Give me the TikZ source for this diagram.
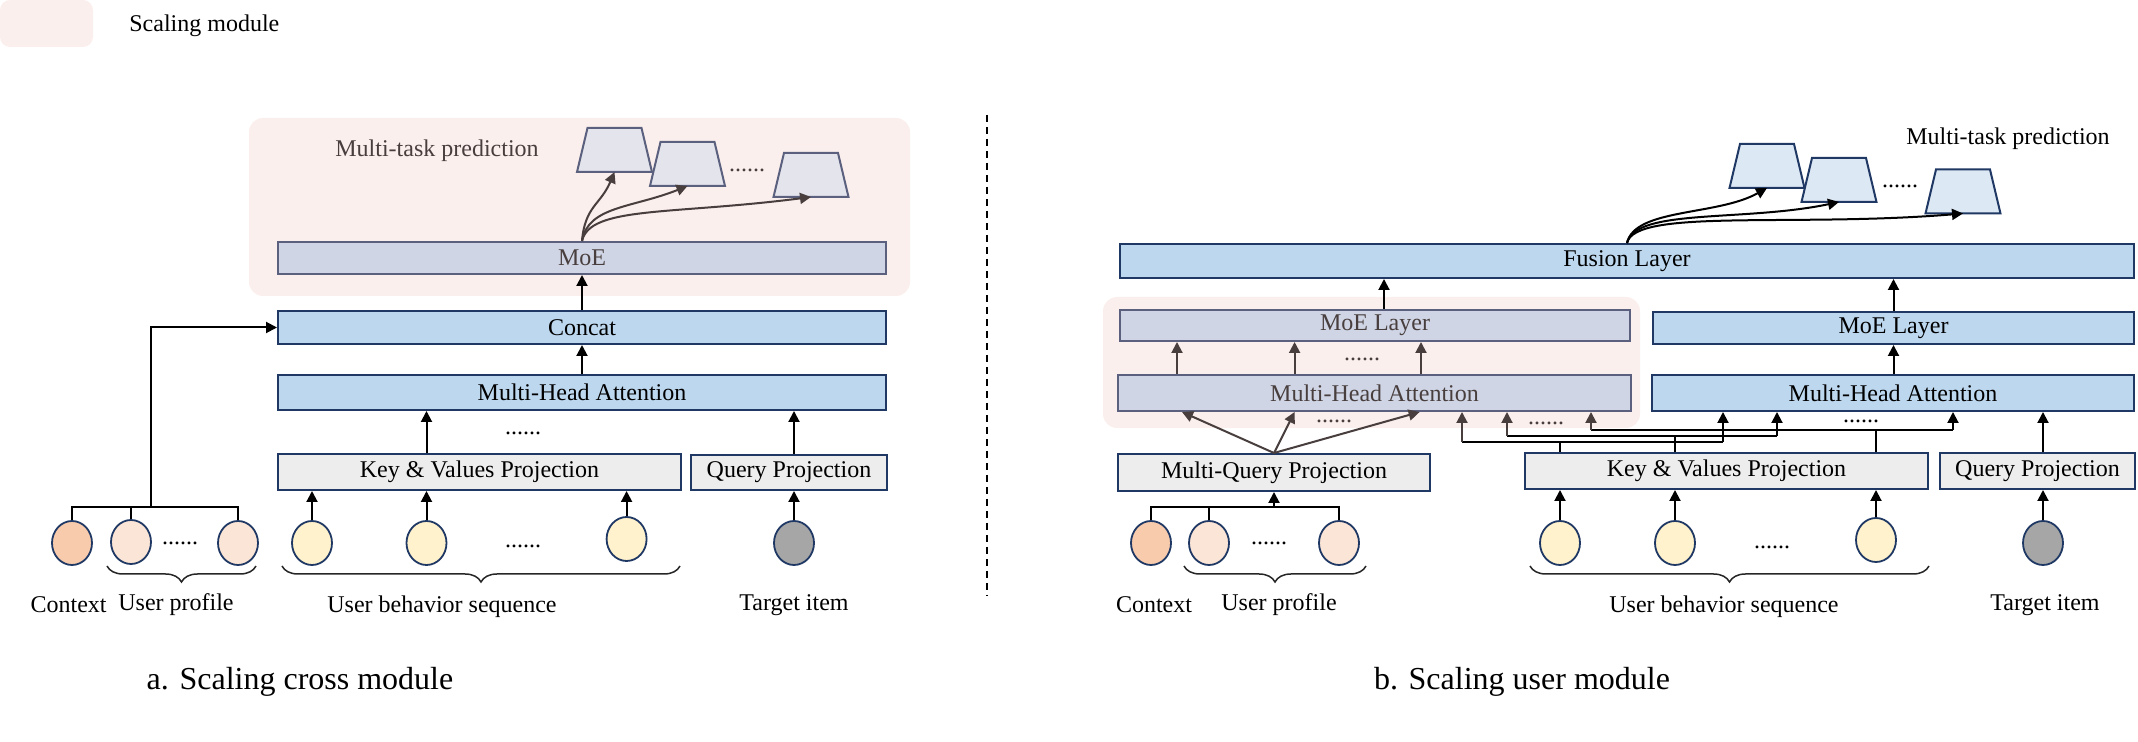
\documentclass[tikz,border=0pt]{standalone}
\usepackage{fontspec}
\setmainfont{Liberation Serif}
\usetikzlibrary{shapes.geometric,arrows.meta,decorations.pathreplacing,calc}
\definecolor{pinkbg}{RGB}{251,239,237}
\definecolor{navy}{RGB}{31,56,100}
\definecolor{bluefill}{RGB}{189,215,238}
\definecolor{grayfill}{RGB}{237,237,237}
\definecolor{lavfill}{RGB}{207,213,228}
\definecolor{lavline}{RGB}{90,96,125}
\definecolor{modtext}{RGB}{72,62,62}
\definecolor{trapA}{RGB}{228,228,236}
\definecolor{trapB}{RGB}{221,232,245}
\definecolor{ctxfill}{RGB}{248,203,173}
\definecolor{upfill}{RGB}{251,229,214}
\definecolor{bhfill}{RGB}{255,242,204}
\definecolor{tgfill}{RGB}{166,166,166}
\newcommand\mytrap[4]{%
  \coordinate (#1) at (#2,#3);
  \draw[#4] ($(#1)+(-27,-22)$) -- ($(#1)+(27,-22)$) -- ($(#1)+(37.5,22)$) -- ($(#1)+(-37.5,22)$) -- cycle;
  \coordinate (#1s) at ($(#1)+(0,22)$);}
\begin{document}
\begin{tikzpicture}[x=0.5pt,y=-0.5pt,font=\fontsize{12}{14}\selectfont,
  bluebox/.style={draw=navy,line width=1pt,fill=bluefill,inner sep=0pt},
  graybox/.style={draw=navy,line width=1pt,fill=grayfill,inner sep=0pt},
  lavbox/.style={draw=lavline,line width=1pt,fill=lavfill,inner sep=0pt,text=modtext},
  trapa/.style={draw=lavline,fill=trapA,line width=1pt},
  trapb/.style={draw=navy,fill=trapB,line width=1pt},
  emb/.style={ellipse,minimum width=20pt,minimum height=22pt,inner sep=0pt,draw=navy,line width=0.9pt},
  ctx/.style={emb,fill=ctxfill},
  upr/.style={emb,fill=upfill},
  bhv/.style={emb,fill=bhfill},
  tgt/.style={emb,fill=tgfill},
  arr/.style={-{Triangle[length=5.5pt,width=5.5pt]},line width=1pt,draw=black},
  modarr/.style={arr,draw=modtext},
  wire/.style={line width=1pt,draw=black},
  brc/.style={decorate,decoration={brace,mirror,amplitude=8pt},line width=0.75pt,draw=black!85},
  lbl/.style={inner sep=0pt},
  dotsl/.style={inner sep=0pt},
  captxt/.style={inner sep=0pt,font=\fontsize{16}{19}\selectfont}
]
\useasboundingbox (0,0) rectangle (2138,742);
% legend
\fill[pinkbg,rounded corners=5pt] (0,0) rectangle (93,47);
\node[lbl,anchor=west] (legtxt) at (129,26) {Scaling module};

% ================= panel a =================
\fill[pinkbg,rounded corners=7pt] (249,118) rectangle (910,296);
\node[lavbox,minimum width=304pt,minimum height=16pt] (moea) at (582,258) {MoE};
\node[bluebox,minimum width=304pt,minimum height=16.5pt] (cata) at (582,327.5) {Concat};
\node[bluebox,minimum width=304pt,minimum height=17.5pt] (mhaa) at (582,392.5) {Multi-Head Attention};
\node[graybox,minimum width=201.5pt,minimum height=18pt] (kva) at (479.5,472) {Key \& Values Projection};
\node[graybox,minimum width=98pt,minimum height=17.5pt] (qpa) at (789,472.5) {Query Projection};
\node[lbl,text=modtext] (mtpa) at (437,151) {Multi-task prediction};
\mytrap{ta1}{614.5}{150}{trapa}
\mytrap{ta2}{687.5}{164}{trapa}
\mytrap{ta3}{811}{175}{trapa}
\node[dotsl,text=modtext] (tdotsa) at (747,170) {......};

\draw[modarr] (moea.north) .. controls ($(moea.north)+(3,-35)$) and ($(ta1s)+(-14,33)$) .. (ta1s);
\draw[modarr] (moea.north) .. controls ($(moea.north)+(6,-35)$) and ($(ta2s)+(-55,22)$) .. (ta2s);
\draw[modarr] (moea.north) .. controls ($(moea.north)+(8,-35)$) and ($(ta3s)+(-140,18)$) .. (ta3s);
\draw[arr] (cata.north) -- (moea.south);
\draw[arr] (mhaa.north) -- (cata.south);

\node[ctx] (ctxa) at (72,543) {};
\node[upr] (upa1) at (131,542) {};
\node[dotsl] (updotsa) at (180,543) {......};
\node[upr] (upa2) at (238,543) {};
\node[bhv] (bha1) at (312,543) {};
\node[bhv] (bha2) at (426.5,543) {};
\node[dotsl] (bhdotsa) at (523,546) {......};
\node[bhv] (bha3) at (626.6,539) {};
\node[tgt] (tga) at (794,543) {};
\node[dotsl] (kvdotsa) at (523,433) {......};

\coordinate (xkva) at (426.5,0);
\coordinate (xqa) at (794,0);
\draw[arr] (kva.north -| xkva) -- (mhaa.south -| xkva);
\draw[arr] (qpa.north -| xqa) -- (mhaa.south -| xqa);
\draw[arr] (bha1.north) -- (kva.south -| bha1);
\draw[arr] (bha2.north) -- (kva.south -| bha2);
\draw[arr] (bha3.north) -- (kva.south -| bha3);
\draw[arr] (tga.north) -- (qpa.south -| tga);

\coordinate (ja) at (151,507);
\draw[wire] (ctxa.north) -- (ctxa |- ja) -- (upa2 |- ja) -- (upa2.north);
\draw[wire] (upa1.north) -- (upa1 |- ja);
\draw[arr] (ja) -- (ja |- cata.west) -- (cata.west);

\draw[brc] (107,566) -- (256,566);
\draw[brc] (282,566) -- (680,566);
\node[lbl] (lctxa) at (68.6,605) {Context};
\node[lbl] (lupa) at (176,605) {User profile};
\node[lbl] (lbha) at (442,607) {User behavior sequence};
\node[lbl] (ltga) at (794,605) {Target item};
\node[captxt] (capa) at (300,682) {a. Scaling cross module};

% divider
\draw[line width=0.85pt,dash pattern=on 3.5pt off 2.5pt] (987,115) -- (987,596);

% ================= panel b =================
\fill[pinkbg,rounded corners=7pt] (1103,297) rectangle (1640,428);
\node[bluebox,minimum width=507pt,minimum height=17pt] (fus) at (1627,261) {Fusion Layer};
\node[lavbox,minimum width=255pt,minimum height=15.5pt] (moeL) at (1375,325.5) {MoE Layer};
\node[bluebox,minimum width=240.5pt,minimum height=16pt] (moeR) at (1893.5,328) {MoE Layer};
\node[lavbox,minimum width=256.5pt,minimum height=18pt] (mhaL) at (1374.5,393) {Multi-Head Attention};
\node[bluebox,minimum width=241pt,minimum height=18pt] (mhaR) at (1893,393) {Multi-Head Attention};
\node[graybox,minimum width=156pt,minimum height=18.5pt] (mqp) at (1274,472.5) {Multi-Query Projection};
\node[graybox,minimum width=201.5pt,minimum height=18pt] (kvb) at (1726.5,471) {Key \& Values Projection};
\node[graybox,minimum width=97.5pt,minimum height=18pt] (qpb) at (2037.5,471) {Query Projection};

\node[lbl] (mtpb) at (2008,139) {Multi-task prediction};
\mytrap{tb1}{1767}{166}{trapb}
\mytrap{tb2}{1839}{180}{trapb}
\mytrap{tb3}{1963}{191.5}{trapb}
\node[dotsl] (tdotsb) at (1900,186) {......};
\draw[arr] (fus.north) .. controls ($(fus.north)+(8,-35)$) and ($(tb1s)+(-50,28)$) .. (tb1s);
\draw[arr] (fus.north) .. controls ($(fus.north)+(8,-35)$) and ($(tb2s)+(-95,20)$) .. (tb2s);
\draw[arr] (fus.north) .. controls ($(fus.north)+(8,-35)$) and ($(tb3s)+(-170,14)$) .. (tb3s);

\coordinate (xfl) at (1384,0);
\draw[arr] (moeL.north -| xfl) -- (fus.south -| xfl);
\draw[arr] (moeR.north) -- (fus.south -| moeR.north);
\draw[arr] (mhaR.north -| moeR.north) -- (moeR.south);

% MHA L -> MoE L
\coordinate (xm1) at (1177,0);
\coordinate (xm2) at (1294.6,0);
\coordinate (xm3) at (1421,0);
\draw[modarr] (mhaL.north -| xm1) -- (moeL.south -| xm1);
\draw[modarr] (mhaL.north -| xm2) -- (moeL.south -| xm2);
\draw[modarr] (mhaL.north -| xm3) -- (moeL.south -| xm3);
\node[dotsl,text=modtext] (mdotsb) at (1362,359) {......};

% MQP -> MHA L
\coordinate (xq1) at (1182,0);
\coordinate (xq2) at (1294.6,0);
\coordinate (xq3) at (1419.6,0);
\draw[modarr] (mqp.north) -- (mhaL.south -| xq1);
\draw[modarr] (mqp.north) -- (mhaL.south -| xq2);
\draw[modarr] (mqp.north) -- (mhaL.south -| xq3);
\node[dotsl,text=modtext] (qdotsb) at (1334,421) {......};

% circles b
\node[ctx] (ctxb) at (1151,543) {};
\node[upr] (upb1) at (1209,543) {};
\node[dotsl] (updotsb) at (1269,543) {......};
\node[upr] (upb2) at (1339,543) {};
\node[bhv] (bhb1) at (1560,543) {};
\node[bhv] (bhb2) at (1675,543) {};
\node[dotsl] (bhdotsb) at (1772,547) {......};
\node[bhv] (bhb3) at (1876,540) {};
\node[tgt] (tgb) at (2043,543) {};

\draw[arr] (bhb1.north) -- (kvb.south -| bhb1);
\draw[arr] (bhb2.north) -- (kvb.south -| bhb2);
\draw[arr] (bhb3.north) -- (kvb.south -| bhb3);
\draw[arr] (tgb.north) -- (qpb.south -| tgb);
\draw[arr] (qpb.north -| tgb) -- (mhaR.south -| tgb);

\coordinate (jb) at (1274,507);
\draw[wire] (ctxb.north) -- (ctxb |- jb) -- (upb2 |- jb) -- (upb2.north);
\draw[wire] (upb1.north) -- (upb1 |- jb);
\draw[arr] (jb) -- (mqp.south);

% KV wiring
\coordinate (h1) at (1462,442);
\coordinate (h1r) at (1723,442);
\coordinate (h2) at (1507,436);
\coordinate (h2r) at (1777,436);
\coordinate (h3) at (1591,430);
\coordinate (h3r) at (1953,430);
\draw[wire] (kvb.north -| bhb1) -- (bhb1 |- h1);
\draw[wire] (kvb.north -| bhb2) -- (bhb2 |- h2);
\draw[wire] (kvb.north -| bhb3) -- (bhb3 |- h3);
\draw[wire] (h1) -- (h1r);
\draw[wire] (h2) -- (h2r);
\draw[wire] (h3) -- (h3r);
\draw[modarr] (h1) -- (mhaL.south -| h1);
\draw[modarr] (h2) -- (mhaL.south -| h2);
\draw[modarr] (h3) -- (mhaL.south -| h3);
\draw[arr] (h1r) -- (mhaR.south -| h1r);
\draw[arr] (h2r) -- (mhaR.south -| h2r);
\draw[arr] (h3r) -- (mhaR.south -| h3r);
\node[dotsl,text=modtext] (kdotsL) at (1546,423) {......};
\node[dotsl] (kdotsR) at (1861,421) {......};

\draw[brc] (1184,566) -- (1366,566);
\draw[brc] (1530,566) -- (1929,566);
\node[lbl] (lctxb) at (1154,605) {Context};
\node[lbl] (lupb) at (1279,605) {User profile};
\node[lbl] (lbhb) at (1724,607) {User behavior sequence};
\node[lbl] (ltgb) at (2045,605) {Target item};
\node[captxt] (capb) at (1522,682) {b. Scaling user module};
\end{tikzpicture}
\end{document}
